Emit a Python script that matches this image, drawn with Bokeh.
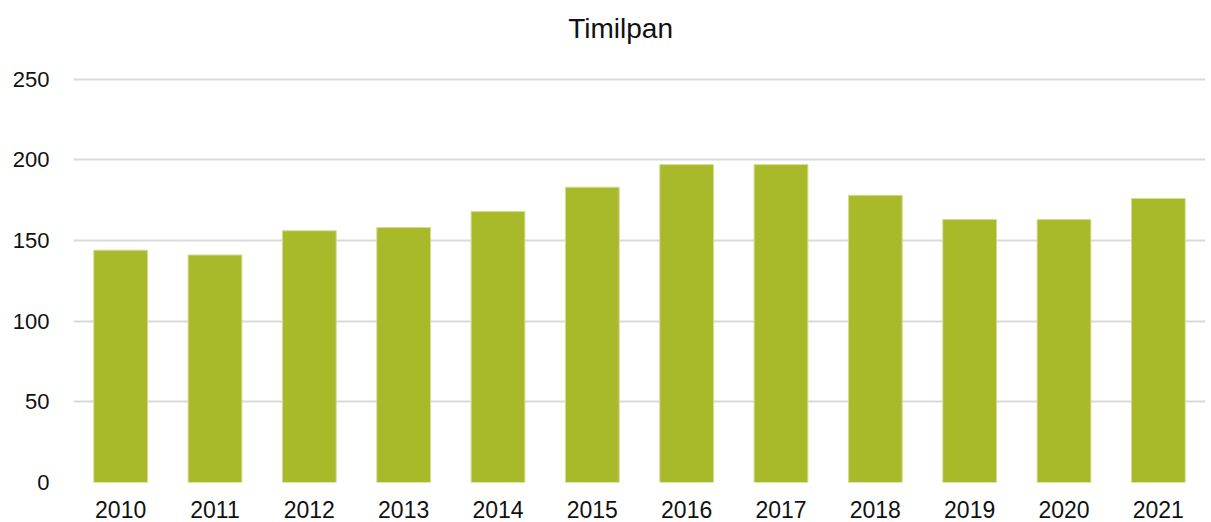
from bokeh.plotting import figure
from bokeh.models import FactorRange, Range1d, FixedTicker
from bokeh.core.properties import value
from bokeh.embed import file_html
from bokeh.resources import INLINE

title_text = "Timilpan"
years = ["2010", "2011", "2012", "2013", "2014", "2015", "2016", "2017", "2018", "2019", "2020", "2021"]
values = [144, 141, 156, 158, 168, 183, 197, 197, 178, 163, 163, 176]
y_ticks = [0, 50, 100, 150, 200, 250]

p = figure(width=1211, height=522, x_range=FactorRange(*years, range_padding=0),
           y_range=Range1d(0, 298.7), output_backend="svg", toolbar_location=None,
           min_border_left=73, min_border_right=6,
           min_border_top=0, min_border_bottom=40)
p.vbar(x=years, top=values, width=0.57, fill_color="#A8B92A", line_color="#D4DC96", line_width=1)

# chart title, drawn inside the (extended) frame above the 250 gridline
p.text(x=[5.80], y=[281.5], text=[title_text], text_align="center", text_baseline="alphabetic",
       text_font=value("Liberation Sans"), text_font_size="28px", text_color="#111111")

p.outline_line_color = None
p.xgrid.grid_line_color = None
p.ygrid.grid_line_color = "#D9D9D9"
p.ygrid.grid_line_width = 2
p.yaxis.ticker = FixedTicker(ticks=y_ticks)
for ax in (p.xaxis[0], p.yaxis[0]):
    ax.axis_line_color = None
    ax.major_tick_line_color = None
    ax.minor_tick_line_color = None
    ax.major_label_text_font = "Liberation Sans"
    ax.major_label_text_color = "#111111"
p.yaxis.major_label_text_font_size = "22px"
p.xaxis.major_label_text_font_size = "23px"
p.yaxis.major_label_standoff = 18
p.xaxis.major_label_standoff = 12

open("out.html", "w").write(file_html(p, INLINE))
